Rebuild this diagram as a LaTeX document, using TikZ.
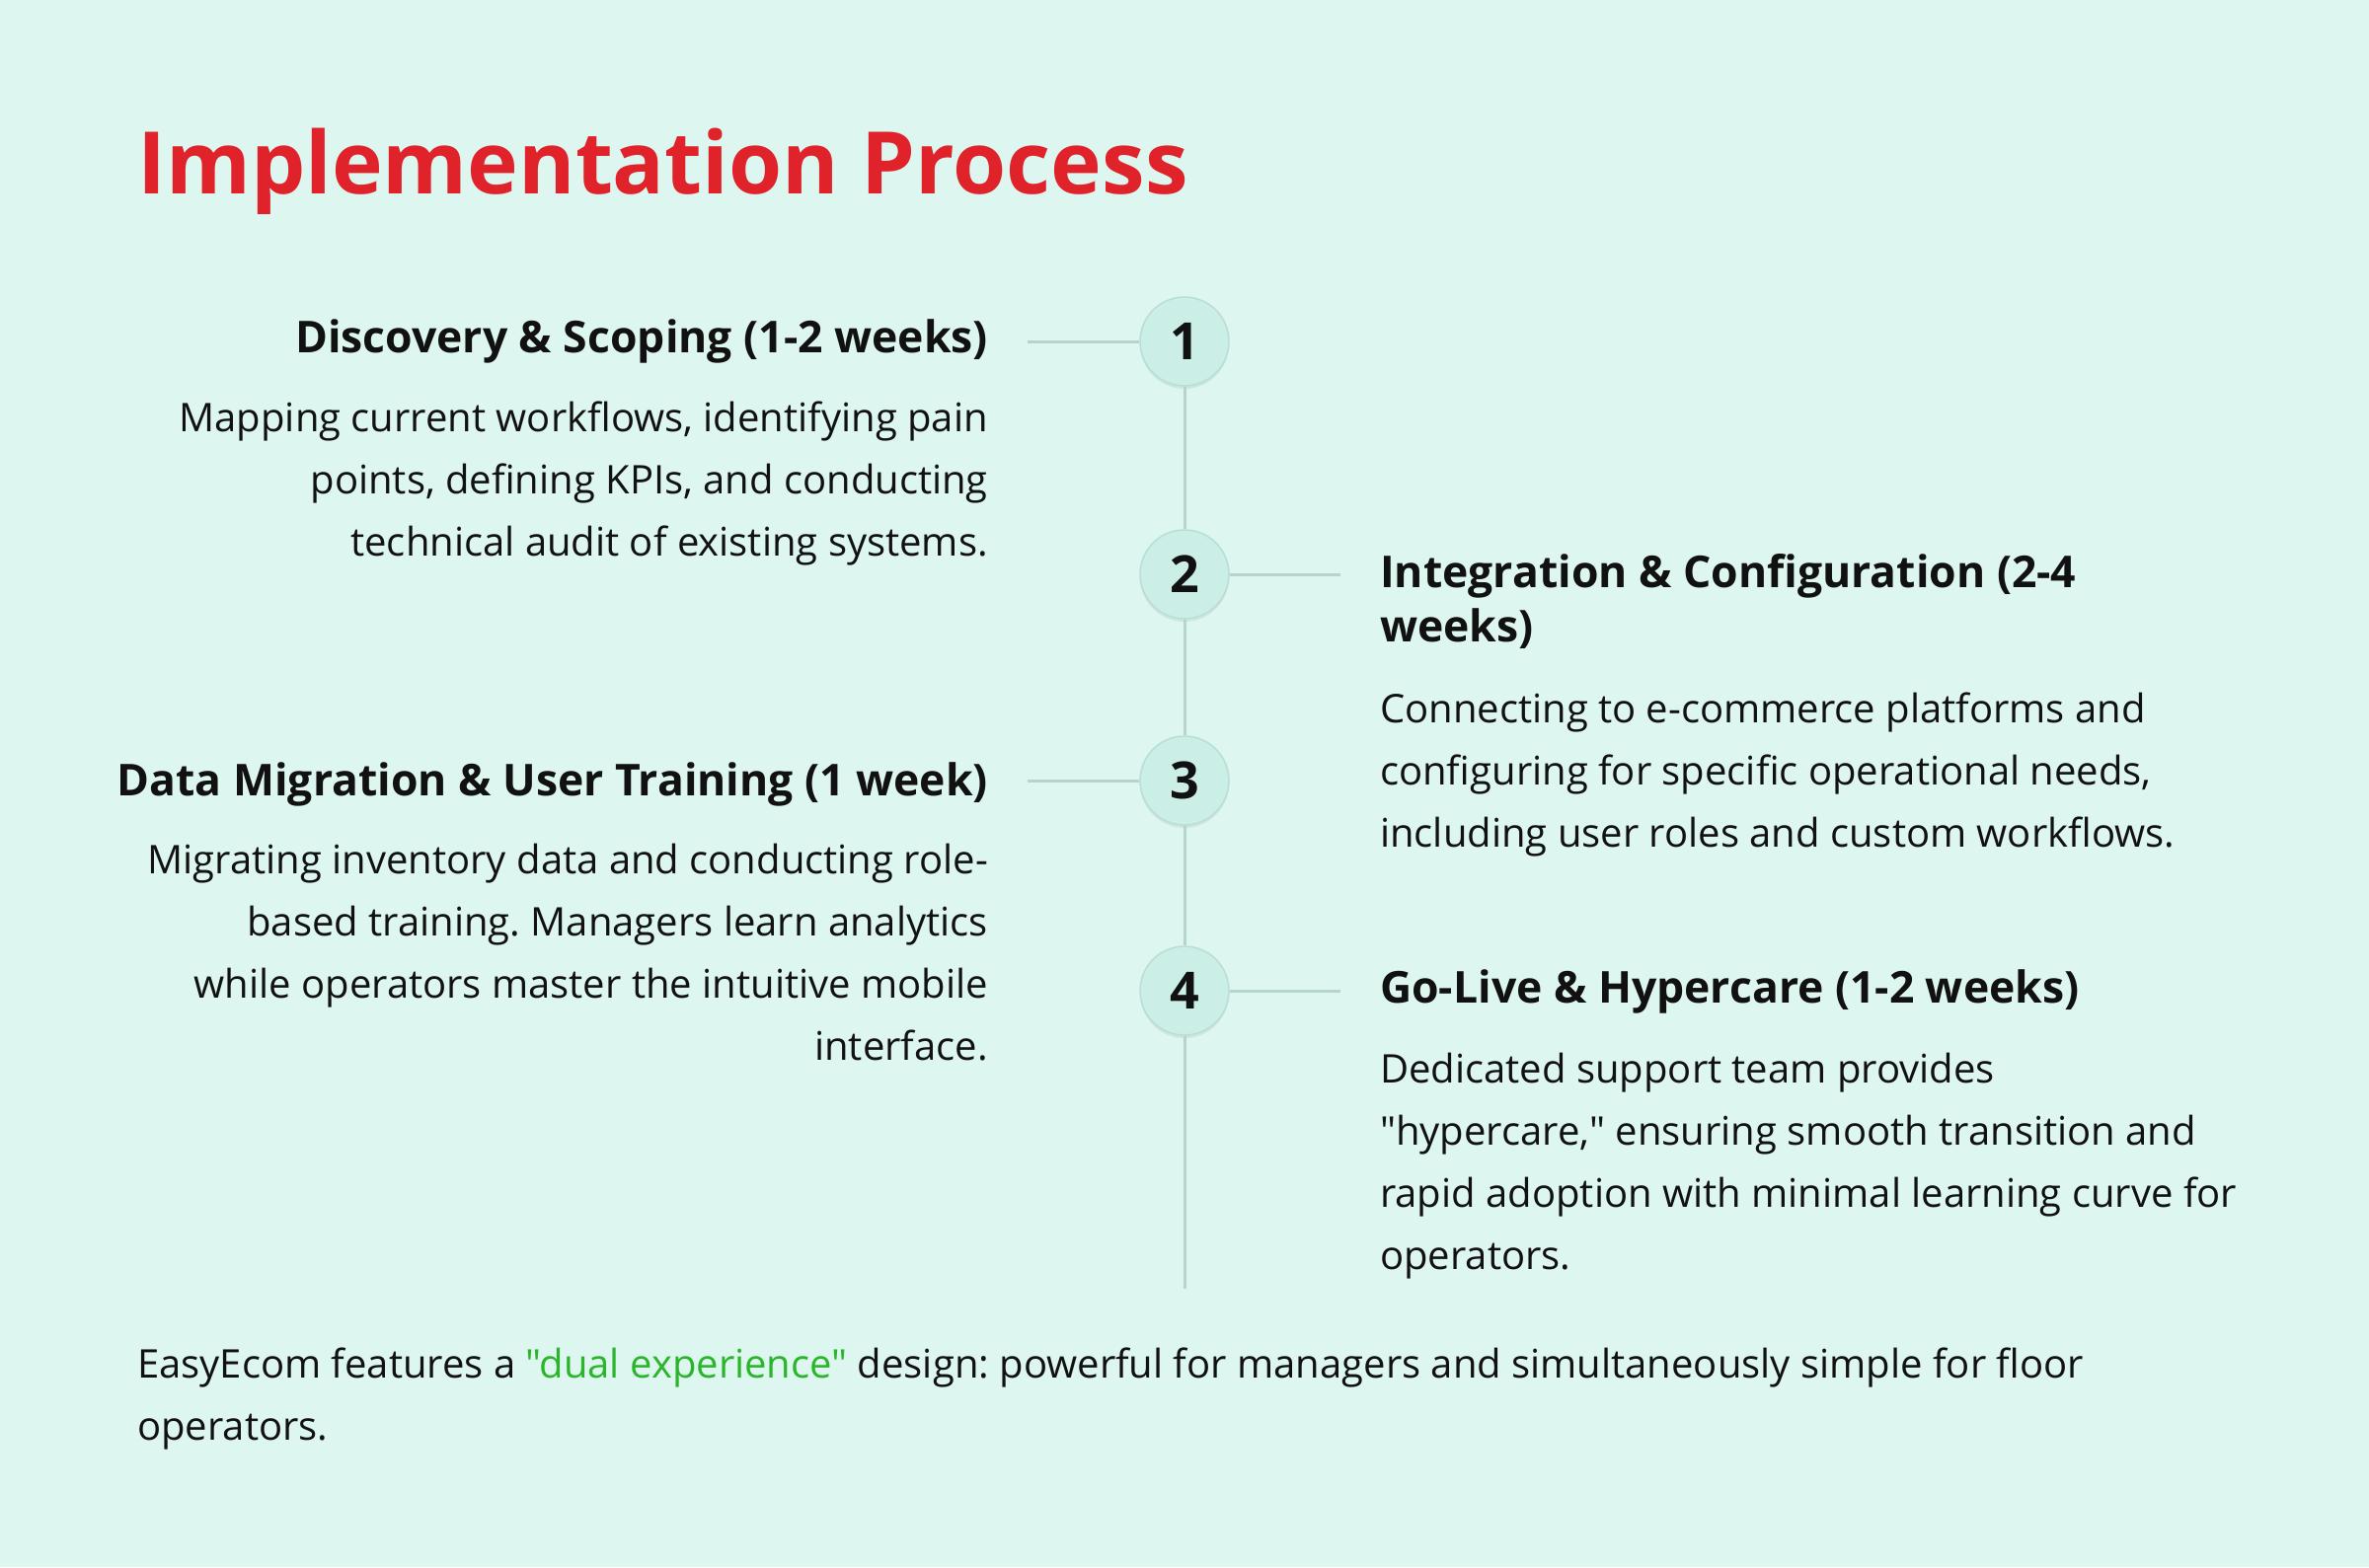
\documentclass[tikz,border=0pt]{standalone}
\usepackage{fontspec}
\setmainfont{Open Sans}[Ligatures=TeXOff]
\usetikzlibrary{shadows}
\frenchspacing
\definecolor{bgc}{HTML}{DDF7F0}
\definecolor{ink}{HTML}{111111}
\definecolor{titlered}{HTML}{E0232A}
\definecolor{linec}{HTML}{B4D4CD}
\definecolor{circfill}{HTML}{CBEEE6}
\definecolor{circdraw}{HTML}{B9DED6}
\definecolor{greentxt}{HTML}{2BB52B}
\newcommand{\txtblock}[2]{\begin{tabular}[t]{@{}#1@{}}#2\end{tabular}}
\begin{document}
\begin{tikzpicture}[x=1pt,y=-1pt,
  titlestyle/.style={inner sep=0pt, text=titlered, font=\fontsize{87.5}{100}\selectfont\bfseries},
  headstyle/.style={inner sep=0pt, text=ink, font=\fontsize{44.5}{55}\selectfont\bfseries},
  bodystyle/.style={inner sep=0pt, text=ink, font=\fontsize{40}{63}\selectfont},
  stepcirc/.style={circle, minimum size=90pt, inner sep=0pt, fill=circfill, draw=circdraw, line width=1.5pt,
     text=ink, font=\fontsize{52}{54}\selectfont\bfseries,
     drop shadow={opacity=0.14, shadow xshift=0pt, shadow yshift=-3pt}},
  conn/.style={draw=linec, line width=3pt}
]
\fill[bgc] (0,0) rectangle (2400,1588);
\useasboundingbox (0,0) rectangle (2400,1588);

\node[titlestyle, anchor=base west] (title) at (139,196) {Implementation Process};

% circles
\node[stepcirc] (c1) at (1200,346) {1};
\node[stepcirc] (c2) at (1200,582) {2};
\node[stepcirc] (c3) at (1200,791) {3};
\node[stepcirc] (c4) at (1200,1004) {4};
\coordinate (lend) at (1200,1306);
\coordinate (h1) at (1041,346);
\coordinate (h2) at (1358,582);
\coordinate (h3) at (1041,791);
\coordinate (h4) at (1358,1004);

\draw[conn] (c1) -- (c2);
\draw[conn] (c2) -- (c3);
\draw[conn] (c3) -- (c4);
\draw[conn] (c4) -- (lend);
\draw[conn] (h1) -- (c1);
\draw[conn] (c2) -- (h2);
\draw[conn] (h3) -- (c3);
\draw[conn] (c4) -- (h4);

% step 1
\node[headstyle, anchor=base east] (t1) at (1001,357) {Discovery \& Scoping (1-2 weeks)};
\node[bodystyle, anchor=base east] (d1) at (1001,437) {\txtblock{r}{Mapping current workflows, identifying pain\\ points, defining KPIs, and conducting\\ technical audit of existing systems.}};

% step 2
\node[headstyle, anchor=base west] (t2) at (1398,595) {\txtblock{l}{Integration \& Configuration (2-4\\ weeks)}};
\node[bodystyle, anchor=base west] (d2) at (1398,732) {\txtblock{l}{Connecting to e-commerce platforms and\\ configuring for specific operational needs,\\ including user roles and custom workflows.}};

% step 3
\node[headstyle, anchor=base east] (t3) at (1001,806) {Data Migration \& User Training (1 week)};
\node[bodystyle, anchor=base east] (d3) at (1001,885) {\txtblock{r}{Migrating inventory data and conducting role-\\ based training. Managers learn analytics\\ while operators master the intuitive mobile\\ interface.}};

% step 4
\node[headstyle, anchor=base west] (t4) at (1398,1016) {Go-Live \& Hypercare (1-2 weeks)};
\node[bodystyle, anchor=base west] (d4) at (1398,1097) {\txtblock{l}{Dedicated support team provides\\ "hypercare," ensuring smooth transition and\\ rapid adoption with minimal learning curve for\\ operators.}};

% footer
\node[bodystyle, anchor=base west] (foot) at (139,1396) {\txtblock{l}{EasyEcom features a \textcolor{greentxt}{"dual experience"} design: powerful for managers and simultaneously simple for floor\\ operators.}};
\end{tikzpicture}
\end{document}
